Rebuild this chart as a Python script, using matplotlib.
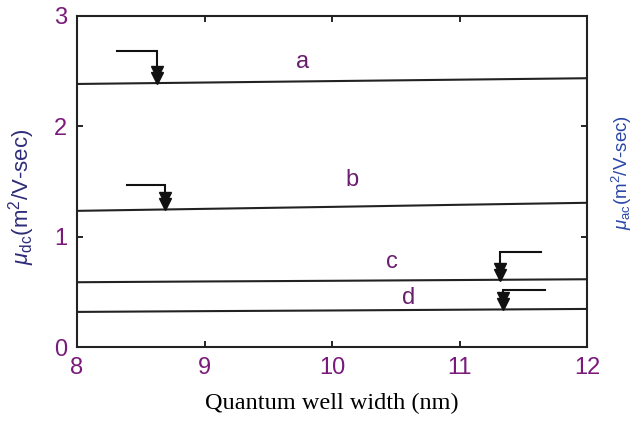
import matplotlib
matplotlib.use("Agg")
import matplotlib.pyplot as plt
import matplotlib.transforms as mtransforms
import numpy as np

# ---- data ----
well_width = [8, 9, 10, 11, 12]
mu_a = [2.384, 2.397, 2.410, 2.423, 2.436]
mu_b = [1.234, 1.252, 1.270, 1.289, 1.307]
mu_c = [0.587, 0.594, 0.600, 0.607, 0.614]
mu_d = [0.318, 0.325, 0.331, 0.338, 0.345]
series = [mu_a, mu_b, mu_c, mu_d]
curve_names = ["a", "b", "c", "d"]
label_x = [9.77, 10.16, 10.47, 10.60]
label_y = [2.58, 1.51, 0.77, 0.44]
# arrow annotations: (tail x of horizontal bar, x of vertical drop, height of bar)
arrow_tail_x = [8.31, 8.39, 11.64, 11.67]
arrow_x = [8.627, 8.69, 11.32, 11.34]
arrow_top = [2.68, 1.467, 0.865, 0.515]
xticks = [8, 9, 10, 11, 12]
yticks = [0, 1, 2, 3]

tick_color = "#7a1a7a"
letter_color = "#6a1e6e"

fig = plt.figure(figsize=(6.35, 4.24), dpi=100)
ax = fig.add_axes([77 / 635, 1 - 347 / 424, 510 / 635, 331 / 424])

for vals in series:
    ax.plot(well_width, vals, color="#222222", lw=1.5)

for name, lx, ly in zip(curve_names, label_x, label_y):
    ax.text(lx, ly, name, color=letter_color, fontsize=17,
            family="Liberation Sans", ha="center", va="center")

off1 = mtransforms.offset_copy(ax.transData, fig=fig, x=0, y=5, units="dots")
off2 = mtransforms.offset_copy(ax.transData, fig=fig, x=0, y=11, units="dots")
for tx, axx, top, vals in zip(arrow_tail_x, arrow_x, arrow_top, series):
    ybase = float(np.interp(axx, well_width, vals))
    ax.plot([tx, axx, axx], [top, top, ybase], color="#111111", lw=1.5,
            solid_joinstyle="miter")
    ax.plot([axx], [ybase], marker="v", ms=9, color="#111111",
            transform=off1, clip_on=False)
    ax.plot([axx], [ybase], marker="v", ms=9, color="#111111",
            transform=off2, clip_on=False)

ax.set_xlim(8, 12)
ax.set_ylim(0, 3)
ax.set_xticks(xticks)
ax.set_yticks(yticks)
ax.tick_params(direction="in", length=4, width=1.2, top=True, right=True,
               labelsize=17, labelcolor=tick_color, pad=7)
for lab in ax.get_xticklabels() + ax.get_yticklabels():
    lab.set_family("Liberation Sans")
for sp in ax.spines.values():
    sp.set_linewidth(1.5)
    sp.set_color("#222222")

ax.set_xlabel("Quantum well width (nm)", family="Liberation Serif",
              fontsize=17.5, color="black", labelpad=10)

plt.rcParams["mathtext.fontset"] = "custom"
plt.rcParams["mathtext.rm"] = "Liberation Sans"
plt.rcParams["mathtext.it"] = "Liberation Sans:italic"

fig.text(22 / 635, 1 - 197 / 424, r"$\mu_{\rm dc}$(m$^2$/V-sec)",
         rotation=90, ha="center", va="center", fontsize=16,
         color="#2e2c78", family="Liberation Sans")
fig.text(622 / 635, 1 - 172 / 424, r"$\mu_{\rm ac}$(m$^2$/V-sec)",
         rotation=90, ha="center", va="center", fontsize=13.5,
         color="#2a46a8", family="Liberation Sans")

fig.savefig("out.png", dpi=100)
